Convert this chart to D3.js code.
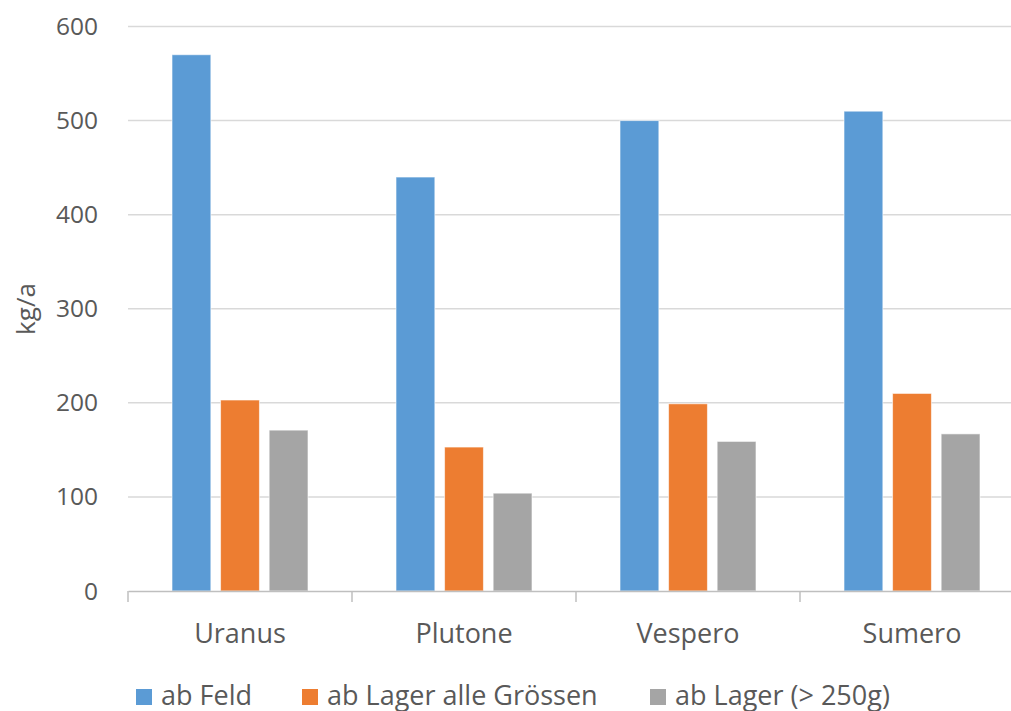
<!DOCTYPE html>
<html>
<head>
<meta charset="utf-8">
<script src="https://cdn.jsdelivr.net/npm/d3@7"></script>
<style>
  body { margin: 0; background: #fff; }
  text { font-family: "Open Sans", "Noto Sans", sans-serif; fill: #595959; }
</style>
</head>
<body>
<svg id="chart" width="1011" height="711"></svg>
<script>
// data
const categories = ['Uranus', 'Plutone', 'Vespero', 'Sumero'];
const seriesNames = ['ab Feld', 'ab Lager alle Grössen', 'ab Lager (> 250g)'];
const abFeld = [570, 440, 500, 510];
const abLagerAlle = [203, 153, 199, 210];
const abLager250 = [171, 104, 159, 167];
const yTicks = [0, 100, 200, 300, 400, 500, 600];

const colors = ['#5B9BD5', '#ED7D31', '#A5A5A5'];
const series = [abFeld, abLagerAlle, abLager250];

const svg = d3.select('#chart');

// plot region (right side runs past the picture edge, like the source)
const plotLeft = 128, plotRight = 1024, plotTop = 26.5, plotBottom = 591;

const y = d3.scaleLinear().domain([0, 600]).range([plotBottom, plotTop]);

const x0 = d3.scaleBand().domain(categories).range([plotLeft, plotRight]).padding(0);

const x1 = d3.scaleBand()
    .domain(d3.range(series.length))
    .range([44, x0.bandwidth() - 44])
    .paddingInner(0.2);

// horizontal grid
svg.append('g')
    .selectAll('line')
    .data(yTicks.filter(d => d > 0))
    .enter()
    .append('line')
    .attr('x1', plotLeft)
    .attr('x2', plotRight)
    .attr('y1', d => y(d))
    .attr('y2', d => y(d))
    .attr('stroke', '#D9D9D9')
    .attr('stroke-width', 1.5);

// y labels
svg.append('g')
    .selectAll('text')
    .data(yTicks)
    .enter()
    .append('text')
    .attr('x', 98)
    .attr('y', d => y(d))
    .attr('dy', '0.35em')
    .attr('text-anchor', 'end')
    .attr('font-size', 24.5)
    .text(d => d);

// bars
const groups = svg.append('g')
    .selectAll('g')
    .data(categories)
    .enter()
    .append('g')
    .attr('transform', d => `translate(${x0(d)},0)`);

groups.selectAll('rect')
    .data((c, i) => series.map((s, k) => ({ k: k, v: s[i] })))
    .enter()
    .append('rect')
    .attr('x', d => x1(d.k))
    .attr('y', d => y(d.v))
    .attr('width', x1.bandwidth())
    .attr('height', d => plotBottom - y(d.v))
    .attr('fill', d => colors[d.k])
    .attr('stroke', '#fff')
    .attr('stroke-opacity', 0.6)
    .attr('stroke-width', 1);

// x axis
const xAxis = svg.append('g')
    .attr('transform', `translate(0,${plotBottom})`)
    .call(d3.axisBottom(x0).tickSize(0).tickFormat(''));
xAxis.select('.domain').attr('stroke', '#BFBFBF').attr('stroke-width', 1.5);

svg.append('g')
    .selectAll('line')
    .data(categories.concat(['end']))
    .enter()
    .append('line')
    .attr('x1', (d, i) => plotLeft + i * x0.step())
    .attr('x2', (d, i) => plotLeft + i * x0.step())
    .attr('y1', plotBottom)
    .attr('y2', plotBottom + 11)
    .attr('stroke', '#BFBFBF')
    .attr('stroke-width', 1.5);

svg.append('g')
    .selectAll('text')
    .data(categories)
    .enter()
    .append('text')
    .attr('x', d => x0(d) + x0.bandwidth() / 2)
    .attr('y', 643)
    .attr('text-anchor', 'middle')
    .attr('font-size', 27)
    .text(d => d);

// y title
svg.append('text')
    .attr('transform', 'translate(35,309) rotate(-90)')
    .attr('text-anchor', 'middle')
    .attr('font-size', 26)
    .text('kg/a');

// legend
const legendX = [136, 302, 650];
const legend = svg.append('g')
    .selectAll('g')
    .data(seriesNames)
    .enter()
    .append('g')
    .attr('transform', (d, i) => `translate(${legendX[i]},689)`);

legend.append('rect')
    .attr('width', 16)
    .attr('height', 16)
    .attr('fill', (d, i) => colors[i]);

legend.append('text')
    .attr('x', 25)
    .attr('y', 15.5)
    .attr('font-size', 27)
    .text(d => d);
</script>
</body>
</html>
